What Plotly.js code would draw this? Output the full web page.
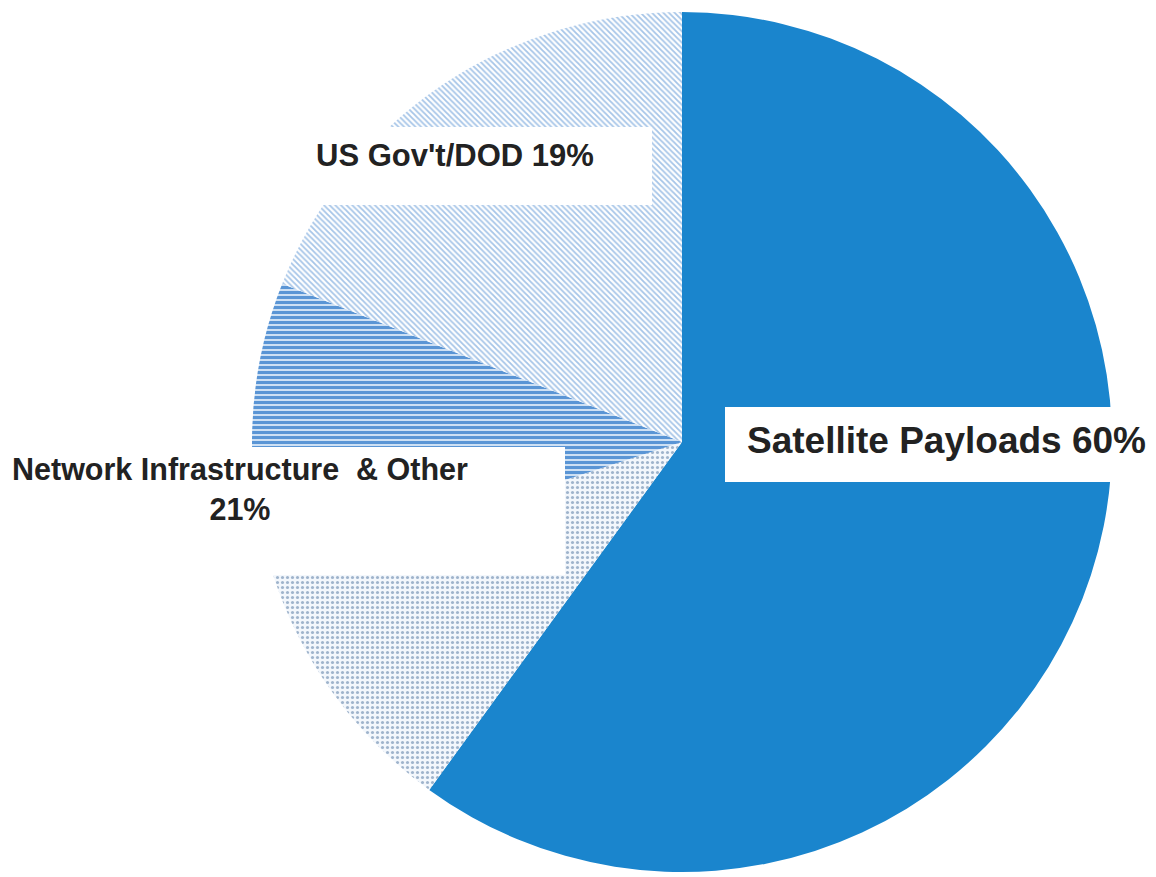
<!DOCTYPE html>
<html>
<head>
<meta charset="utf-8">
<script src="https://cdn.plot.ly/plotly-3.0.1.min.js"></script>
<style>
  html, body { margin: 0; padding: 0; background: #ffffff; }
  #chart { width: 1156px; height: 877px; }
</style>
</head>
<body>
<div id="chart"></div>
<script>
// Data (clockwise from 12 o'clock)
var sliceLabels = ["Satellite Payloads", "Other", "Network Infrastructure", "US Gov't/DOD"];
var sliceValues = [60, 10, 11, 19];
var labelTexts = ["Satellite Payloads 60%", "Network Infrastructure  & Other<br>21%", "US Gov't/DOD 19%"];

var sliceColors = ["#1a85cd", "#f0f5fb", "#cfe1f4", "#ffffff"];
var patternShapes = ["", ".", "-", "\\"];
var patternFg = ["#1a85cd", "#9fb4cc", "#5a95d5", "#a6c5e8"];
var patternBg = ["#1a85cd", "#f3f7fc", "#cde0f4", "#ffffff"];
var patternSize = [5, 5, 5, 4];
var patternSolidity = [0.5, 0.3, 0.6, 0.45];

var trace = {
  type: "pie",
  labels: sliceLabels,
  values: sliceValues,
  sort: false,
  direction: "clockwise",
  rotation: 0,
  textinfo: "none",
  hoverinfo: "label+percent",
  showlegend: false,
  domain: { x: [252 / 1156, 1112 / 1156], y: [5 / 877, 865 / 877] },
  marker: {
    colors: sliceColors,
    line: { width: 0 },
    pattern: {
      shape: patternShapes,
      fgcolor: patternFg,
      bgcolor: patternBg,
      size: patternSize,
      solidity: patternSolidity,
      fillmode: "replace"
    }
  }
};

function px(x) { return x / 1156; }
function py(y) { return 1 - y / 877; }

var boxStyle = { type: "rect", xref: "paper", yref: "paper", fillcolor: "#ffffff", line: { width: 0 }, layer: "above" };

var layout = {
  width: 1156,
  height: 877,
  margin: { l: 0, r: 0, t: 0, b: 0 },
  paper_bgcolor: "#ffffff",
  plot_bgcolor: "#ffffff",
  shapes: [
    Object.assign({}, boxStyle, { x0: px(725), x1: px(1113), y0: py(482), y1: py(407) }),
    Object.assign({}, boxStyle, { x0: px(300), x1: px(652), y0: py(205), y1: py(127) }),
    Object.assign({}, boxStyle, { x0: px(0), x1: px(565), y0: py(575), y1: py(447) })
  ],
  annotations: [
    {
      text: labelTexts[0], xref: "paper", yref: "paper",
      x: px(946), y: py(440), xanchor: "center", yanchor: "middle", showarrow: false,
      font: { family: "Liberation Sans, Arial, sans-serif", size: 37, color: "#222222", weight: "bold" }
    },
    {
      text: labelTexts[2], xref: "paper", yref: "paper",
      x: px(455), y: py(155), xanchor: "center", yanchor: "middle", showarrow: false,
      font: { family: "Liberation Sans, Arial, sans-serif", size: 31, color: "#222222", weight: "bold" }
    },
    {
      text: labelTexts[1], xref: "paper", yref: "paper", align: "center",
      x: px(240), y: py(489), xanchor: "center", yanchor: "middle", showarrow: false,
      font: { family: "Liberation Sans, Arial, sans-serif", size: 30.5, color: "#222222", weight: "bold" }
    }
  ]
};

Plotly.newPlot("chart", [trace], layout, { displayModeBar: false, staticPlot: true });
</script>
</body>
</html>
